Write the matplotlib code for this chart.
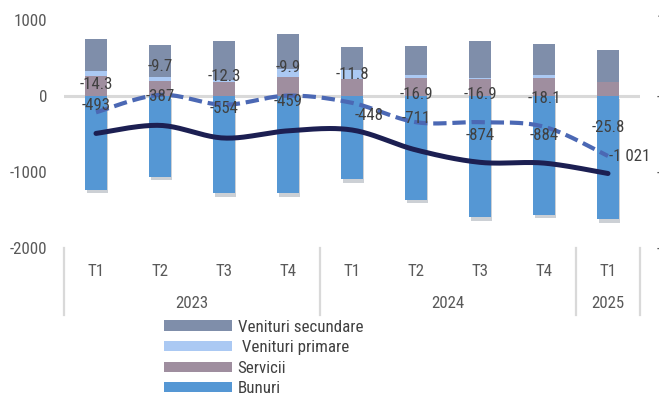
import matplotlib
matplotlib.use("Agg")
import matplotlib.pyplot as plt
import matplotlib.patheffects as pe
from matplotlib.patches import Patch
from matplotlib.transforms import blended_transform_factory
import numpy as np

QUARTERS = ["T1", "T2", "T3", "T4", "T1", "T2", "T3", "T4", "T1"]
YEARS = ["2023", "2024", "2025"]
YEAR_SPANS = [(0, 3), (4, 7), (8, 8)]

# milioane USD
BUNURI = [-1238, -1063, -1282, -1282, -1094, -1370, -1598, -1568, -1621]
SERVICII = [262, 198, 180, 254, 220, 242, 220, 242, 184]
VENITURI_PRIMARE = [66, 57, 30, 97, 123, 30, 22, 30, 0]
VENITURI_SECUNDARE = [417, 421, 518, 472, 303, 387, 482, 412, 416]
CONT_CURENT = [-493, -387, -554, -459, -448, -711, -874, -884, -1021]
# % din PIB (axa din dreapta)
CONT_CURENT_PIB = [-14.3, -9.7, -12.3, -9.9, -11.8, -16.9, -16.9, -18.1, -25.8]

LEFT_TICKS = [1000, 0, -1000, -2000]
RIGHT_TICKS = [10, -10, -30, -50]

FONT = ["Liberation Sans Narrow", "Arial Narrow", "Roboto Condensed", "PT Sans Narrow",
        "Archivo Narrow", "Liberation Sans", "DejaVu Sans"]
FS = 12.2
TICK_COLOR = "#595959"
LABEL_COLOR = "#404040"

C_BUNURI = "#5597d4"
C_SERVICII = "#9f8e9f"
C_PRIMARE = "#abc9f3"
C_SECUNDARE = "#7f8eaa"
C_SOLID = "#1c1f52"
C_DASH = "#4b68b4"

DPI = 100
PX = 72 / DPI


def smooth(xs, ys, n=24):
    # curba neteda tip Excel (Catmull-Rom prin Bezier)
    pts = np.column_stack([np.asarray(xs, float), np.asarray(ys, float)])
    out = []
    for i in range(len(pts) - 1):
        p0 = pts[max(i - 1, 0)]
        p1 = pts[i]
        p2 = pts[i + 1]
        p3 = pts[min(i + 2, len(pts) - 1)]
        c1 = p1 + (p2 - p0) / 6
        c2 = p2 - (p3 - p1) / 6
        t = np.linspace(0, 1, n)[:, None]
        seg = ((1 - t) ** 3) * p1 + 3 * ((1 - t) ** 2) * t * c1 + 3 * (1 - t) * t ** 2 * c2 + t ** 3 * p2
        out.append(seg if i == 0 else seg[1:])
    out = np.vstack(out)
    return out[:, 0], out[:, 1]


def main():
    plt.rcParams["font.family"] = FONT
    fig = plt.figure(figsize=(6.59, 3.94), dpi=DPI)
    ax = fig.add_axes([64 / 659, 1 - 247.8 / 394, 576 / 659, 227.7 / 394])
    ax2 = ax.twinx()

    x = np.arange(len(QUARTERS))
    w = 0.33

    ax.bar(x, BUNURI, w, color=C_BUNURI, zorder=2,
           path_effects=[pe.SimplePatchShadow(offset=(1, -2.5), alpha=0.22), pe.Normal()])
    ax.bar(x, SERVICII, w, color=C_SERVICII, zorder=2)
    bottom = np.array(SERVICII)
    ax.bar(x, VENITURI_PRIMARE, w, bottom=bottom, color=C_PRIMARE, zorder=2)
    bottom = bottom + np.array(VENITURI_PRIMARE)
    ax.bar(x, VENITURI_SECUNDARE, w, bottom=bottom, color=C_SECUNDARE, zorder=2)

    ax.axhline(0, color="#d9d9d9", lw=2.2, zorder=1)

    sx, sy = smooth(x, CONT_CURENT)
    ax.plot(sx, sy, color=C_SOLID, lw=3.6, solid_capstyle="round", zorder=4)

    dx, dy = smooth(x, CONT_CURENT_PIB)
    ax2.plot(dx, dy, color=C_DASH, lw=3.0, linestyle=(0, (3.2, 1.4)), zorder=4)

    ax.set_xlim(-0.5, len(QUARTERS) - 0.5)
    ax.set_ylim(-2000, 1000)
    ax2.set_ylim(-50, 10)

    ax.set_yticks(LEFT_TICKS)
    ax.set_yticklabels([str(v) for v in LEFT_TICKS])
    ax.tick_params(axis="y", length=0, pad=17 * PX, labelsize=FS, labelcolor=TICK_COLOR)
    ax2.set_yticks(RIGHT_TICKS)
    ax2.set_yticklabels([str(v) for v in RIGHT_TICKS])
    ax2.tick_params(axis="y", length=0, pad=16.5 * PX, labelsize=FS, labelcolor=TICK_COLOR)

    ax.set_xticks(x)
    ax.set_xticklabels(QUARTERS)
    ax.tick_params(axis="x", length=0, pad=12, labelsize=FS, labelcolor=TICK_COLOR)

    for a in (ax, ax2):
        for s in a.spines.values():
            s.set_visible(False)

    # etichete an si separatoare
    trans = blended_transform_factory(ax.transData, ax.transAxes)
    sep_bottom = -(315 - 247.8) / 227.7
    for (a, b), year in zip(YEAR_SPANS, YEARS):
        ax.text((a + b) / 2, -(304 - 247.8) / 227.7, year, transform=trans,
                ha="center", va="center", fontsize=FS, color=TICK_COLOR)
    for xs in [-0.5, 3.5, 7.5, 8.5]:
        ax.plot([xs, xs], [0, sep_bottom], transform=trans, color="#d9d9d9",
                lw=1.6, clip_on=False)

    # etichete de date
    for xi, v in zip(x, CONT_CURENT_PIB):
        ax2.annotate(f"{v:.1f}", (xi, v), xytext=(0, 28 * PX), textcoords="offset points",
                     ha="center", va="center", fontsize=FS, color=LABEL_COLOR, zorder=6)

    offsets = [(0, 28), (0, 29), (0, 30), (0, 29), (17, 15), (0, 31), (0, 27), (0, 28), (1, 17)]
    for i, (xi, v) in enumerate(zip(x, CONT_CURENT)):
        ox, oy = offsets[i]
        ha = "left" if i == len(x) - 1 else "center"
        ax2.annotate(f"{v:,}".replace(",", " "), (xi, v), xycoords=ax.transData,
                     xytext=(ox * PX, oy * PX), textcoords="offset points",
                     ha=ha, va="center", fontsize=FS, color=LABEL_COLOR, zorder=6)

    handles = [
        Patch(facecolor=C_SECUNDARE, label="Venituri secundare"),
        Patch(facecolor=C_PRIMARE, label=" Venituri primare"),
        Patch(facecolor=C_SERVICII, label="Servicii"),
        Patch(facecolor=C_BUNURI, label="Bunuri"),
    ]
    fig.legend(handles=handles, loc="upper left", bbox_to_anchor=(164 / 659, 1 - 319.5 / 394),
               frameon=False, fontsize=FS, handlelength=4.0, handleheight=0.55,
               handletextpad=0.35, labelspacing=0.33, borderpad=0, borderaxespad=0,
               labelcolor=LABEL_COLOR)

    fig.savefig("out.png", dpi=DPI)
    plt.close(fig)


if __name__ == "__main__":
    main()
